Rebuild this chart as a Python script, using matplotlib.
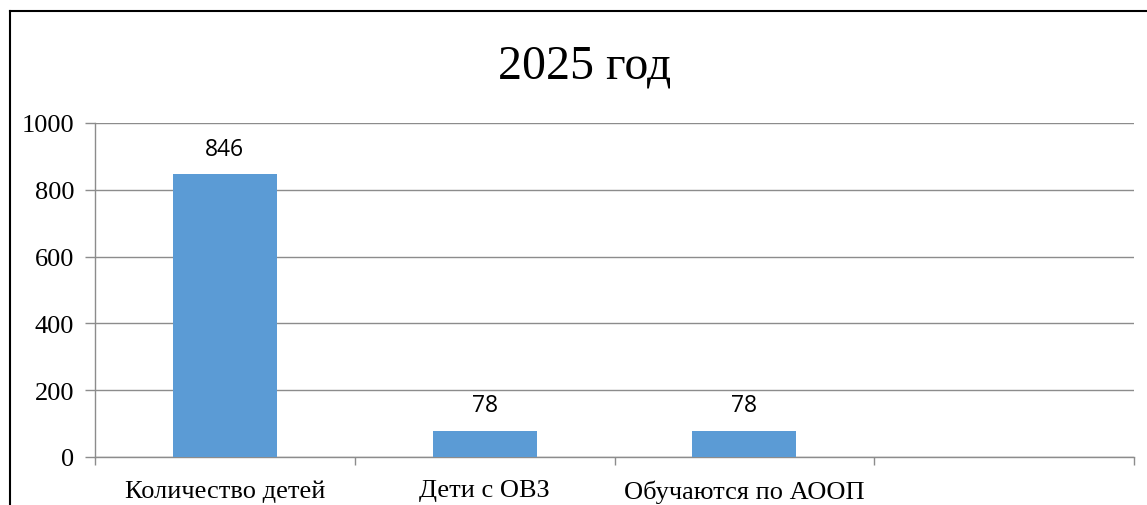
import matplotlib.pyplot as plt
from matplotlib.lines import Line2D

# данные
categories = ["Количество детей", "Дети с ОВЗ", "Обучаются по АООП", ""]
values = [846, 78, 78]
y_ticks = [0, 200, 400, 600, 800, 1000]
title = "2025 год"

bar_color = "#5B9BD5"
grid_color = "#8C8C8C"
serif = "Liberation Serif"

fig = plt.figure(figsize=(11.47, 5.06), dpi=100)
ax = fig.add_axes([95 / 1147, 1 - 458 / 506, (1134 - 95) / 1147, (458 - 124) / 506])

x = list(range(len(values)))
bars = ax.bar(x, values, width=0.4, color=bar_color, zorder=3)
for b, v in zip(bars, values):
    ax.annotate(str(v), (b.get_x() + b.get_width() / 2, v), xytext=(0, 10),
                textcoords="offset points", ha="center", va="bottom",
                fontsize=16.5, family="Open Sans", color="black")

ax.set_xlim(-0.5, len(categories) - 0.5)
ax.set_ylim(0, 1000)
ax.set_yticks(y_ticks)
ax.set_yticklabels([str(t) for t in y_ticks], family=serif, fontsize=19)
ax.set_xticks(range(len(categories)))
ax.set_xticklabels(categories, family=serif, fontsize=19)
ax.set_xticks([i - 0.5 for i in range(len(categories) + 1)], minor=True)
ax.tick_params(axis="x", which="major", length=0, pad=16)
ax.tick_params(axis="x", which="minor", length=6, color=grid_color, width=1)
ax.tick_params(axis="y", length=7, color=grid_color, width=1, pad=8)

ax.grid(axis="y", color=grid_color, linewidth=1, zorder=0)
for s in ["top", "right"]:
    ax.spines[s].set_visible(False)
for s in ["left", "bottom"]:
    ax.spines[s].set_color(grid_color)
    ax.spines[s].set_linewidth(1)

fig.text(585 / 1147, 1 - 66 / 506, title, ha="center", va="center",
         family=serif, fontsize=34.5)

# рамка
yt = 1 - 12 / 506
xl = 10 / 1147
fig.add_artist(Line2D([xl, xl], [0, yt], color="black", linewidth=1.5))
fig.add_artist(Line2D([xl, 1], [yt, yt], color="black", linewidth=1.5))

fig.savefig("out.png", dpi=100)
